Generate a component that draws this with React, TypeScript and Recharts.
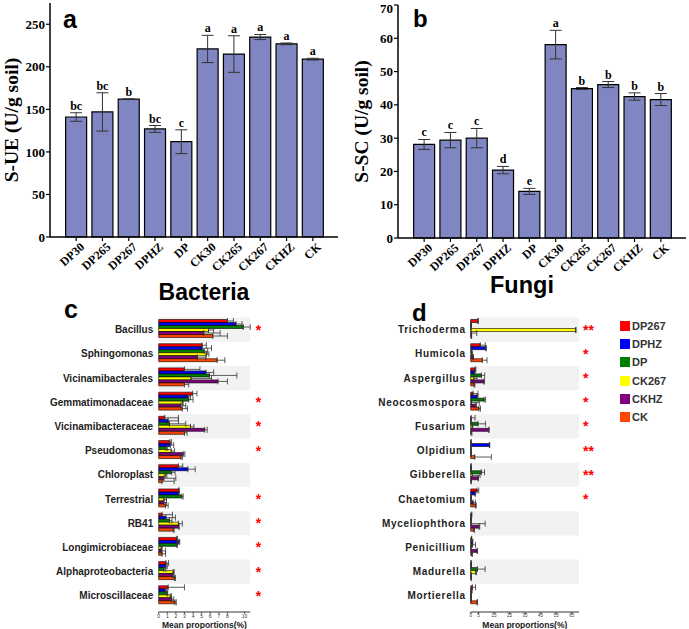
import { BarChart, Bar, XAxis, YAxis, ErrorBar, LabelList, ReferenceArea } from 'recharts';

// panels a & b: enzyme activity per treatment
const groups = ['DP30', 'DP265', 'DP267', 'DPHZ', 'DP', 'CK30', 'CK265', 'CK267', 'CKHZ', 'CK'];
const ueMean = [141, 147, 162, 127, 112, 221, 215, 235, 227, 209];
const ueErr = [5, 22.5, 0.5, 4, 14, 16, 21.5, 3, 1, 1];
const ueLetters = ['bc', 'bc', 'b', 'bc', 'c', 'a', 'a', 'a', 'a', 'a'];
const scMean = [28.1, 29.4, 30, 20.4, 14, 58.1, 44.9, 46.1, 42.5, 41.6];
const scErr = [1.5, 2.3, 2.9, 1.1, 0.9, 4.3, 0.3, 0.9, 1.1, 1.8];
const scLetters = ['c', 'c', 'c', 'd', 'e', 'a', 'b', 'b', 'b', 'b'];

// panels c & d: mean proportions (%)
const seriesNames = ['DP267', 'DPHZ', 'DP', 'CK267', 'CKHZ', 'CK'];
const seriesColors = ['#FF0000', '#0000FF', '#008000', '#FFFF00', '#800080', '#FF4500'];

const bacteriaTaxa = ['Bacillus', 'Sphingomonas', 'Vicinamibacterales', 'Gemmatimonadaceae', 'Vicinamibacteraceae', 'Pseudomonas', 'Chloroplast', 'Terrestrial', 'RB41', 'Longimicrobiaceae', 'Alphaproteobacteria', 'Microscillaceae'];
const bacteriaSig = ['*', '', '', '*', '*', '*', '', '*', '*', '*', '*', '*'];
const bacDP267 = [8.0, 5.05, 3.0, 3.95, 0.7, 1.3, 2.3, 2.3, 0.4, 2.1, 0.85, 1.1];
const bacDP267Err = [0.7, 0.5, 1.8, 0.5, 1.6, 0.2, 0.5, 0.1, 1.2, 0.1, 0.3, 1.9];
const bacDPHZ = [9.0, 5.05, 5.5, 3.4, 1.1, 1.35, 3.4, 2.3, 0.85, 2.35, 0.8, 0.75];
const bacDPHZErr = [0.7, 1.1, 0.9, 0.3, 1.2, 0.4, 0.85, 0.1, 1.1, 0.1, 0.2, 0.2];
const bacDP = [9.85, 5.3, 5.9, 3.5, 1.25, 0.85, 1.5, 2.7, 1.25, 2.1, 0.6, 0.95];
const bacDPErr = [0.8, 0.4, 3.2, 0.5, 1.9, 0.2, 0.4, 0.15, 0.3, 0.1, 0.25, 0.1];
const bacCK267 = [5.8, 5.55, 3.75, 2.75, 3.7, 1.45, 0.75, 0.6, 2.3, 0.3, 1.7, 1.35];
const bacCK267Err = [0.6, 0.3, 2.4, 0.1, 0.4, 0.4, 0.2, 0.3, 0.45, 0.1, 0.1, 0.15];
const bacCKHZ = [5.25, 4.5, 6.9, 2.55, 5.35, 2.85, 0.6, 0.6, 2.3, 0.3, 1.6, 1.5];
const bacCKHZErr = [1.9, 1.0, 1.1, 0.6, 0.3, 0.2, 1.4, 0.3, 0.1, 0.5, 0.1, 0.25];
const bacCK = [6.3, 6.8, 3.0, 2.75, 3.0, 2.6, 0.4, 0.8, 1.7, 0.4, 1.85, 1.9];
const bacCKErr = [1.7, 0.9, 0.5, 0.6, 0.3, 0.15, 1.4, 0.3, 0.1, 0.4, 0.1, 0.15];
const bacteriaTicks = [0, 1, 2, 3, 4, 5, 6, 7, 8, 9, 10];

const fungiTaxa = ['Trichoderma', 'Humicola', 'Aspergillus', 'Neocosmospora', 'Fusarium', 'Olpidium', 'Gibberella', 'Chaetomium', 'Myceliophthora', 'Penicillium', 'Madurella', 'Mortierella'];
const fungiSig = ['**', '*', '*', '*', '*', '**', '**', '*', '', '', '', ''];
const funDP267 = [4.5, 6.2, 2.8, 1.5, 0.3, 0.3, 0.3, 4.1, 0.3, 0.6, 0.3, 1.1];
const funDP267Err = [0.5, 3.2, 0.5, 3.2, 2.5, 0, 0, 1.1, 0.5, 0, 0, 2];
const funDPHZ = [0.3, 9.7, 2.4, 4.1, 0.2, 12, 0.3, 2.8, 0.3, 1.1, 0.3, 0.6];
const funDPHZErr = [0, 0.4, 0.3, 0.5, 0, 0.3, 0, 0.3, 0, 0.3, 0, 0.3];
const funDP = [0.3, 0.6, 6.9, 8.6, 4.7, 0.2, 6.9, 0.3, 0.3, 1.1, 4.3, 0.3];
const funDPErr = [0, 0.2, 2.1, 1, 4.8, 0, 2, 0, 0, 2, 5, 0];
const funCK267 = [67.5, 0.7, 2, 0.5, 1, 0.2, 1, 0.3, 0.3, 0.3, 3.2, 0.3];
const funCK267Err = [0.3, 0.3, 2, 5, 0.3, 0, 5, 0, 9, 0, 0.5, 0];
const funCKHZ = [0.4, 1.5, 8.4, 3.2, 11.6, 0.3, 4.7, 1.5, 5.3, 4.1, 0.3, 0.3];
const funCKHZErr = [3.5, 0.3, 0.5, 0.5, 0.3, 0, 0.3, 1.5, 0.5, 0.3, 0, 0];
const funCK = [0.3, 7.5, 2.2, 5.3, 0.3, 2.6, 0.3, 3.2, 2.1, 0.8, 0.3, 4.1];
const funCKErr = [0.3, 3, 0.5, 1, 0.5, 10.7, 0, 0.3, 0.3, 0.3, 0, 0.3];
const fungiTicks = [0, 5, 10, 15, 20, 25, 30, 35, 40, 45, 50, 55, 60, 65];

const SERIF = '"Liberation Serif", "Times New Roman", serif';
const SANS = '"Liberation Sans", Arial, sans-serif';
const BAR_FILL = '#7F86C1';

const activityRows = (means: number[], errs: number[]) =>
  groups.map((g, i) => ({ name: g, mean: means[i], err: errs[i] }));

const taxaRows = (taxa: string[], means: number[][], errs: number[][]) =>
  taxa.map((name, i) => {
    const row: any = { name };
    seriesNames.forEach((s, k) => {
      row[s] = means[k][i];
      row[s + 'Err'] = [0, errs[k][i]];
    });
    return row;
  });

const AngledTick = (props: any) => {
  const { x, y, payload } = props;
  const tx = x + 9;
  const ty = y + 5;
  return (
    <text x={tx} y={ty} transform={`rotate(-42, ${tx}, ${ty})`} textAnchor="end"
      fontFamily={SERIF} fontWeight={700} fontSize={12} fill="#000">
      {payload.value}
    </text>
  );
};

const letterLabel = (letters: string[], errs: number[]) => (props: any) => {
  const { x, y, width, height, index, value } = props;
  const perUnit = Number(height) / Number(value);
  const top = Number(y) - errs[index] * perUnit - 3;
  return (
    <text x={Number(x) + Number(width) / 2} y={top} textAnchor="middle"
      fontFamily={SERIF} fontWeight={700} fontSize={12} fill="#000">
      {letters[index]}
    </text>
  );
};

const yTitle = (text: string, cx: number) => (props: any) => {
  const vb = props.viewBox;
  const cy = vb.y + vb.height / 2;
  return (
    <text x={cx} y={cy} transform={`rotate(-90, ${cx}, ${cy})`} textAnchor="middle"
      dominantBaseline="central" fontFamily={SERIF} fontWeight={700} fontSize={19.5} fill="#000">
      {text}
    </text>
  );
};

function ActivityChart({ means, errs, letters, domainMax, ticks, title, titleX, yWidth, marginRight, padLeft, padRight, top, bottomMargin }: any) {
  return (
    <BarChart width={yWidth + 288 + marginRight} height={300} data={activityRows(means, errs)}
      margin={{ top, right: marginRight, bottom: bottomMargin, left: 0 }} barCategoryGap="10%">
      <XAxis dataKey="name" height={50} interval={0} tick={<AngledTick />} tickSize={4}
        padding={{ left: padLeft, right: padRight }}
        axisLine={{ stroke: '#000', strokeWidth: 1.5 }} tickLine={{ stroke: '#000', strokeWidth: 1.2 }} />
      <YAxis width={yWidth} domain={[0, domainMax]} ticks={ticks} tickSize={4} tickMargin={1}
        axisLine={{ stroke: '#000', strokeWidth: 1.5 }} tickLine={{ stroke: '#000', strokeWidth: 1.2 }}
        tick={{ fontFamily: SERIF, fontWeight: 700, fontSize: 13, fill: '#000' }}
        label={{ value: title, content: yTitle(title, titleX) }} />
      <Bar dataKey="mean" fill={BAR_FILL} stroke="#000" strokeWidth={1.2} isAnimationActive={false}>
        <ErrorBar dataKey="err" width={6} stroke="#333" strokeWidth={1} />
        <LabelList dataKey="mean" content={letterLabel(letters, errs)} />
      </Bar>
    </BarChart>
  );
}

function TaxaChart({ rows, taxa, sig, xMax, ticks, labelWidth, plotWidth, starWidth, labelMargin, starMargin, labelSpacing, tickFont }: any) {
  return (
    <BarChart width={labelWidth + plotWidth + starWidth} height={329} data={rows} layout="vertical"
      margin={{ top: 17.5, right: 0, bottom: 0, left: 0 }} barCategoryGap={2} barGap={0}>
      {taxa.map((t: string, i: number) =>
        i % 2 === 0 ? (
          <ReferenceArea key={t} y1={t} y2={t} fill="#f2f2f2" fillOpacity={1} stroke="none" ifOverflow="visible" />
        ) : null
      )}
      <XAxis type="number" domain={[0, xMax]} ticks={ticks} height={17} tickSize={2} tickMargin={0}
        axisLine={{ stroke: '#000', strokeWidth: 0.8 }} tickLine={{ stroke: '#000', strokeWidth: 0.6 }}
        tick={{ fontFamily: SANS, fontSize: tickFont, fill: '#333' }}
        label={{ value: 'Mean proportions(%)', position: 'insideBottom', offset: 1, style: { fontFamily: SANS, fontWeight: 700, fontSize: 8.5, fill: '#222' } }} />
      <YAxis type="category" dataKey="name" width={labelWidth} interval={0} tickSize={0} tickMargin={labelMargin}
        axisLine={false} tickLine={false} padding={{ top: 0, bottom: 4 }}
        tick={{ fontFamily: SANS, fontWeight: 700, fontSize: 10, fill: '#222', letterSpacing: labelSpacing }} />
      <YAxis yAxisId="star" orientation="right" type="category" dataKey="name" width={starWidth} interval={0}
        tickSize={0} tickMargin={starMargin} axisLine={false} tickLine={false} padding={{ top: 0, bottom: 4 }}
        tickFormatter={(v: string) => sig[taxa.indexOf(v)] || ''}
        tick={{ fontFamily: SANS, fontWeight: 700, fontSize: 14, fill: '#FF0000' }} />
      {seriesNames.map((s, k) => (
        <Bar key={s} dataKey={s} fill={seriesColors[k]} stroke="#000" strokeWidth={0.6} isAnimationActive={false}>
          <ErrorBar dataKey={s + 'Err'} direction="x" width={3} stroke="#333" strokeWidth={0.8} />
        </Bar>
      ))}
    </BarChart>
  );
}

export default function App() {
  const bacteriaRows = taxaRows(
    bacteriaTaxa,
    [bacDP267, bacDPHZ, bacDP, bacCK267, bacCKHZ, bacCK],
    [bacDP267Err, bacDPHZErr, bacDPErr, bacCK267Err, bacCKHZErr, bacCKErr]
  );
  const fungiRows = taxaRows(
    fungiTaxa,
    [funDP267, funDPHZ, funDP, funCK267, funCKHZ, funCK],
    [funDP267Err, funDPHZErr, funDPErr, funCK267Err, funCKHZErr, funCKErr]
  );

  return (
    <div style={{ position: 'absolute', left: 0, top: 0, width: 689, height: 629, background: '#fff', overflow: 'hidden' }}>
      <div style={{ position: 'absolute', left: 0, top: 0 }}>
        <ActivityChart means={ueMean} errs={ueErr} letters={ueLetters} domainMax={275}
          ticks={[0, 50, 100, 150, 200, 250]} title="S-UE (U/g soil)" titleX={11}
          yWidth={50} marginRight={7} padLeft={13} padRight={12} top={3} bottomMargin={13} />
      </div>
      <div style={{ position: 'absolute', left: 340, top: 0 }}>
        <ActivityChart means={scMean} errs={scErr} letters={scLetters} domainMax={70}
          ticks={[0, 10, 20, 30, 40, 50, 60, 70]} title="S-SC (U/g soil)" titleX={21}
          yWidth={58} marginRight={2} padLeft={13} padRight={12} top={5} bottomMargin={12} />
      </div>
      <div style={{ position: 'absolute', left: 0, top: 300 }}>
        <TaxaChart rows={bacteriaRows} taxa={bacteriaTaxa} sig={bacteriaSig} xMax={10.2} ticks={bacteriaTicks}
          labelWidth={158.7} plotWidth={91.5} starWidth={20} labelMargin={5.5} starMargin={5.5}
          labelSpacing={0} tickFont={5} />
      </div>
      <div style={{ position: 'absolute', left: 310, top: 300 }}>
        <TaxaChart rows={fungiRows} taxa={fungiTaxa} sig={fungiSig} xMax={69.7} ticks={fungiTicks}
          labelWidth={160.7} plotWidth={108.3} starWidth={30} labelMargin={5} starMargin={4}
          labelSpacing={0.7} tickFont={4.5} />
      </div>
      <div style={{ position: 'absolute', left: 620, top: 316.5 }}>
        {seriesNames.map((s, k) => (
          <div key={s} style={{ display: 'flex', alignItems: 'center', height: 18.3 }}>
            <span style={{ width: 10, height: 10, background: seriesColors[k], display: 'inline-block' }} />
            <span style={{ marginLeft: 2, fontFamily: SANS, fontWeight: 700, fontSize: 11, color: '#333' }}>{s}</span>
          </div>
        ))}
      </div>
      <svg width={689} height={629} style={{ position: 'absolute', left: 0, top: 0, pointerEvents: 'none' }}>
        <g fontFamily={SANS} fontWeight={700} fill="#000">
          <text x={63} y={28} fontSize={25}>a</text>
          <text x={413} y={27} fontSize={24}>b</text>
          <text x={204} y={300} fontSize={23} textAnchor="middle">Bacteria</text>
          <text x={522} y={293} fontSize={23.5} textAnchor="middle">Fungi</text>
          <text x={64} y={318} fontSize={25}>c</text>
          <text x={412} y={321} fontSize={24}>d</text>
        </g>
      </svg>
    </div>
  );
}
